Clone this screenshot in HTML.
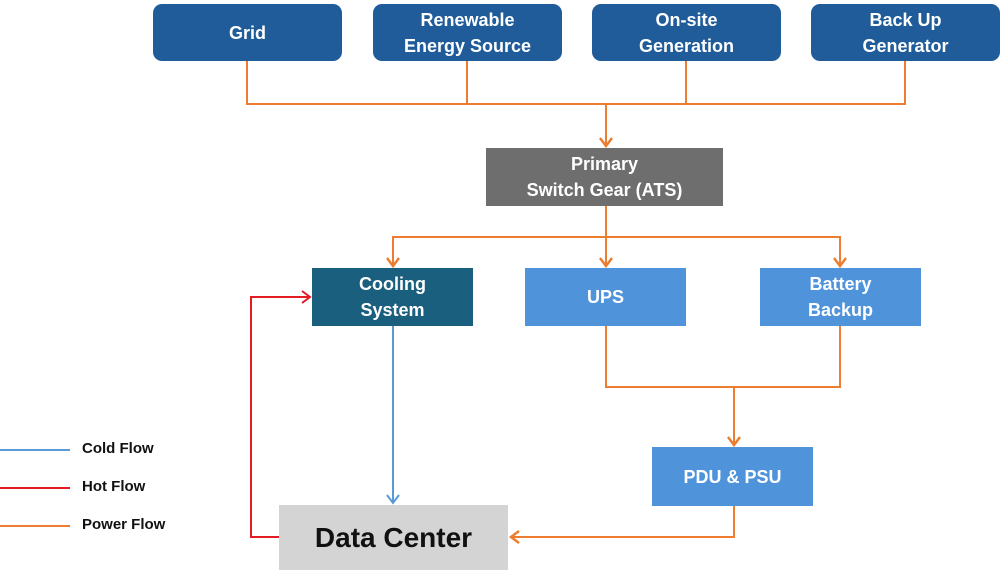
<!DOCTYPE html>
<html><head><style>
body{margin:0;background:#fff;width:1000px;height:574px;overflow:hidden;position:relative;font-family:"Liberation Sans",sans-serif;font-weight:bold}
.b{position:absolute;display:flex;align-items:center;justify-content:center;text-align:center;color:#fff;font-size:18px;line-height:26px;box-sizing:border-box}
.t{background:#1f5c99;border-radius:9px;top:4px;height:57px;width:189px}
.l{position:absolute;left:82px;font-size:15px;color:#111}
</style></head><body>
<svg width="1000" height="574" style="position:absolute;left:0;top:0">
<g fill="none" stroke="#ed7d31" stroke-width="2">
<polyline points="247,61 247,104 905,104 905,61"/>
<line x1="467" y1="61" x2="467" y2="104"/><line x1="686" y1="61" x2="686" y2="104"/>
<line x1="606" y1="104" x2="606" y2="146"/>
<line x1="606" y1="206" x2="606" y2="266"/>
<polyline points="393,266 393,237 840,237 840,266"/>
<polyline points="606,326 606,387 840,387 840,326"/>
<line x1="734" y1="387" x2="734" y2="445"/>
<polyline points="734,506 734,537 511,537"/>
<line x1="0" y1="526" x2="70" y2="526"/>
</g>
<g fill="none" stroke="#ed7d31" stroke-width="2.5">
<polyline points="600,138 606,146 612,138"/><polyline points="387,258 393,266 399,258"/>
<polyline points="600,258 606,266 612,258"/><polyline points="834,258 840,266 846,258"/>
<polyline points="728,437 734,445 740,437"/><polyline points="519,531 511,537 519,543"/>
</g>
<g fill="none" stroke="#e31b23" stroke-width="2">
<polyline points="279,537 251,537 251,297 310,297"/><polyline points="302,291 310,297 302,303"/>
<line x1="0" y1="488" x2="70" y2="488"/>
</g>
<g fill="none" stroke="#5b9bd5" stroke-width="2">
<line x1="393" y1="326" x2="393" y2="503"/><polyline points="387,495 393,503 399,495"/>
<line x1="0" y1="450" x2="70" y2="450"/>
</g>
</svg>
<div class="b t" style="left:153px">Grid</div>
<div class="b t" style="left:373px">Renewable<br>Energy Source</div>
<div class="b t" style="left:592px">On-site<br>Generation</div>
<div class="b t" style="left:811px">Back Up<br>Generator</div>
<div class="b" style="left:486px;top:148px;width:237px;height:58px;background:#6e6e6e">Primary<br>Switch Gear (ATS)</div>
<div class="b" style="left:312px;top:268px;width:161px;height:58px;background:#1b5f7f">Cooling<br>System</div>
<div class="b" style="left:525px;top:268px;width:161px;height:58px;background:#4f94db">UPS</div>
<div class="b" style="left:760px;top:268px;width:161px;height:58px;background:#4f94db">Battery<br>Backup</div>
<div class="b" style="left:652px;top:447px;width:161px;height:59px;background:#4f94db">PDU &amp; PSU</div>
<div class="b" style="left:279px;top:505px;width:229px;height:65px;background:#d4d4d4;color:#111;font-size:28px">Data Center</div>
<div class="l" style="top:440px">Cold Flow</div>
<div class="l" style="top:478px">Hot Flow</div>
<div class="l" style="top:516px">Power Flow</div>
</body></html>
